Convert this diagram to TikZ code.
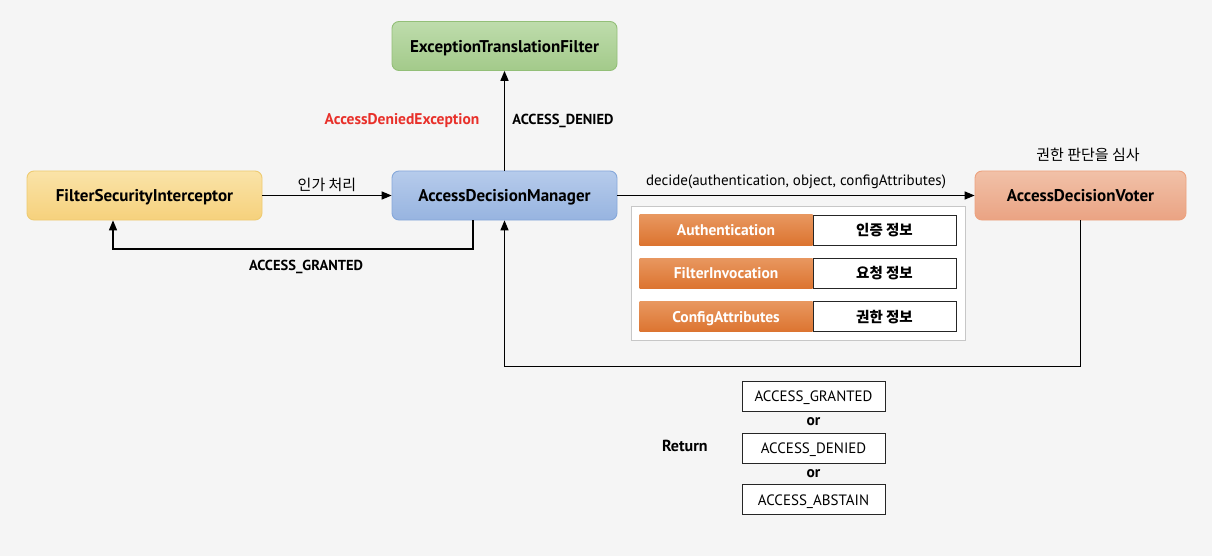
\documentclass[tikz,border=0pt]{standalone}
\usepackage{fontspec}
\setmainfont{PT Sans}
\newfontfamily\kr{Noto Sans CJK KR}
\usetikzlibrary{matrix, arrows, positioning}
\definecolor{bgc}{HTML}{F5F5F5}
\definecolor{yelT}{HTML}{FAE3A8}
\definecolor{yelB}{HTML}{F6D17C}
\definecolor{yelD}{HTML}{EECB72}
\definecolor{bluT}{HTML}{B6CBEB}
\definecolor{bluB}{HTML}{97B4E0}
\definecolor{bluD}{HTML}{86A8DA}
\definecolor{grnT}{HTML}{BEDCAC}
\definecolor{grnB}{HTML}{A3CA8A}
\definecolor{grnD}{HTML}{93BF78}
\definecolor{orgT}{HTML}{F1C1A8}
\definecolor{orgB}{HTML}{EAA383}
\definecolor{orgD}{HTML}{EDA27E}
\definecolor{celT}{HTML}{E8975F}
\definecolor{celB}{HTML}{DC7430}
\definecolor{redtxt}{HTML}{E8302A}
\newcommand\tsz{\fontsize{17}{20}\selectfont\bfseries}
\newcommand\lsz{\fontsize{14.5}{17}\selectfont}
\newcommand\rsz{\fontsize{15}{18}\selectfont}

\begin{document}
\begin{tikzpicture}[x=1pt, y=-1pt, >=triangle 45, line width=1.3pt,
  comp/.style={rounded corners=7pt, minimum width=225pt, minimum height=49pt, text depth=0pt, line width=0.9pt, font=\tsz},
  attr/.style={minimum width=173pt, minimum height=30pt, text depth=0pt, inner sep=0pt, top color=celT, bottom color=celB, text=white, font=\fontsize{15.5}{18}\selectfont\bfseries},
  info/.style={draw=black!85, fill=white, line width=0.9pt, minimum width=143pt, minimum height=30pt, inner sep=0pt, font=\lsz\kr\bfseries},
  retbox/.style={draw=black!85, fill=white, line width=0.9pt, minimum width=143pt, minimum height=30pt, text depth=0pt, inner sep=0pt, font=\rsz},
  orword/.style={minimum height=21pt, inner sep=0pt, font=\fontsize{15.5}{17}\selectfont\bfseries}]
\useasboundingbox[fill=bgc] (0,0) rectangle (1212,556);

\node[comp, draw=yelD, top color=yelT, bottom color=yelB, minimum width=235pt] (fsi) at (144.5,195.5) {FilterSecurityInterceptor};
\node[comp, draw=bluD, top color=bluT, bottom color=bluB] (adm) at (504.5,195.5) {AccessDecisionManager};
\node[comp, draw=grnD, top color=grnT, bottom color=grnB] (etf) at (504.5,46) {ExceptionTranslationFilter};
\node[comp, draw=orgD, top color=orgT, bottom color=orgB, minimum width=211pt] (adv) at (1080.5,195.5) {AccessDecisionVoter};

% decide() arguments
\matrix (tbl) [matrix of nodes, draw=black!22, fill=white, line width=0.9pt, inner sep=8.5pt, row sep=12.5pt, column sep=0pt] at (798,273.5) {
|[attr]| Authentication & |[info]| 인증 정보 \\
|[attr]| FilterInvocation & |[info]| 요청 정보 \\
|[attr]| ConfigAttributes & |[info]| 권한 정보 \\
};

% return values
\matrix (ret) [matrix of nodes, row sep=0pt, inner sep=0pt] at (813.5,448) {
|[retbox]| ACCESS\_GRANTED \\
|[orword]| or \\
|[retbox]| ACCESS\_DENIED \\
|[orword]| or \\
|[retbox]| ACCESS\_ABSTAIN \\
};
\node[font=\fontsize{16}{18}\selectfont\bfseries, left=30pt of ret-3-1, yshift=2.5pt] (rlbl) {Return};

\node[font=\rsz\kr] (vlbl) at (1088,155) {권한 판단을 심사};
\node[font=\fontsize{15.5}{18}\selectfont\bfseries, text=redtxt] (exc) at (402,121) {AccessDeniedException};

\coordinate (g1) at (473,249);
\coordinate (g2) at (113,249);
\coordinate (r1) at (0,366.5);

\draw [->] (fsi) -- (adm) node[above, pos=.5, font=\rsz\kr]{인가 처리};
\draw [->] (adm) -- (etf) node[right=4pt, pos=.5, font=\lsz\bfseries]{ACCESS\_DENIED};
\draw [->] (adm) -- (adv) node[above=3pt, pos=.5, font=\rsz]{decide(authentication, object, configAttributes)};
\draw [->] (adm.south -| g1) -- (g1) -- (g2) -- (fsi.south -| g2);
\node[font=\lsz\bfseries] (glbl) at (306,267) {ACCESS\_GRANTED};
\draw [->] (adv.south) |- (adm.south |- r1) -- (adm.south);
\end{tikzpicture}
\end{document}
